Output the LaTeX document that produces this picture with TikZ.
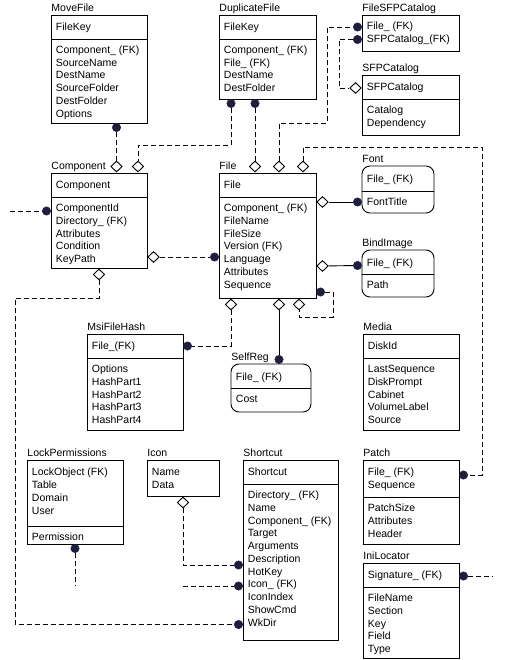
\documentclass[tikz,border=0pt]{standalone}
\usepackage{fontspec}
\setmainfont{Liberation Sans}
\usetikzlibrary{shapes.geometric,fit}
\definecolor{navy}{RGB}{30,30,62}
\newcommand\rowsx[1]{\begin{tabular}[t]{@{}l@{}}#1\end{tabular}}
\begin{document}
\begin{tikzpicture}[x=1pt,y=-1pt,line width=0.9pt,
  font=\fontsize{10.5}{12.75}\selectfont,
  ebox/.style={draw,inner sep=0pt,line width=0.9pt},
  rbox/.style={ebox,rounded corners=8pt},
  lbl/.style={anchor=base west,inner sep=0pt},
  txt/.style={anchor=base west,inner sep=0pt,xshift=4.5pt},
  dot/.style={circle,fill=navy,draw=navy,minimum size=8.5pt,inner sep=0pt,line width=0.4pt},
  dmd/.style={diamond,draw,fill=white,minimum width=11.5pt,minimum height=11pt,inner sep=0pt,line width=0.9pt},
  dsh/.style={dash pattern=on 5pt off 3pt},
  sld/.style={solid}]
\fill[white] (0,0) rectangle (506,660);
\useasboundingbox (0,0) rectangle (506,660);

% MoveFile
\node[lbl] (mvL) at (51,11.5) {MoveFile};
\node[ebox,fit={(51,15)(147,123)}] (mv) {};
\draw (51,39) -- (147,39);
\node[txt] (mvK) at (51,30.8) {FileKey};
\node[txt] (mvR) at (51,53.5) {\rowsx{Component\_ (FK)\\SourceName\\DestName\\SourceFolder\\DestFolder\\Options}};

% DuplicateFile
\node[lbl] (dfL) at (219,11.5) {DuplicateFile};
\node[ebox,fit={(219,15)(316,99)}] (df) {};
\draw (219,39) -- (316,39);
\node[txt] (dfK) at (219,30.8) {FileKey};
\node[txt] (dfR) at (219,53.5) {\rowsx{Component\_ (FK)\\File\_ (FK)\\DestName\\DestFolder}};

% FileSFPCatalog
\node[lbl] (fsL) at (362,11.5) {FileSFPCatalog};
\node[ebox,fit={(362,15)(459,51)}] (fs) {};
\node[txt] (fsR) at (362,29.5) {\rowsx{File\_ (FK)\\SFPCatalog\_(FK)}};

% SFPCatalog
\node[lbl] (spL) at (362,71.5) {SFPCatalog};
\node[ebox,fit={(362,75)(459,135)}] (sp) {};
\draw (362,99) -- (459,99);
\node[txt] (spK) at (362,90.8) {SFPCatalog};
\node[txt] (spR) at (362,113.5) {\rowsx{Catalog\\Dependency}};

% Component
\node[lbl] (cmLb) at (51,169.5) {Component};
\node[ebox,fit={(51,173)(147,268)}] (cm) {};
\draw (51,197) -- (147,197);
\node[txt] (cmK) at (51,188.8) {Component};
\node[txt] (cmRw) at (51,211.5) {\rowsx{ComponentId\\Directory\_ (FK)\\Attributes\\Condition\\KeyPath}};

% File
\node[lbl] (fLb) at (219,169.5) {File};
\node[ebox,fit={(219,173)(316,298)}] (fl) {};
\draw (219,197) -- (316,197);
\node[txt] (fK) at (219,188.8) {File};
\node[txt] (fRw) at (219,211.5) {\rowsx{Component\_ (FK)\\FileName\\FileSize\\Version (FK)\\Language\\Attributes\\Sequence}};

% Font
\node[lbl] (ftL) at (362,162.5) {Font};
\node[rbox,fit={(362,166)(434,213)}] (ft) {};
\draw (362,191) -- (434,191);
\node[txt] (ftK) at (362,182.3) {File\_ (FK)};
\node[txt] (ftR) at (362,205.5) {FontTitle};

% BindImage
\node[lbl] (biL) at (362,246.5) {BindImage};
\node[rbox,fit={(362,250)(434,297)}] (bi) {};
\draw (362,274) -- (434,274);
\node[txt] (biK) at (362,266) {File\_ (FK)};
\node[txt] (biR) at (362,288.5) {Path};

% MsiFileHash
\node[lbl] (msL) at (87,330.5) {MsiFileHash};
\node[ebox,fit={(87,334)(183,430)}] (ms) {};
\draw (87,358) -- (183,358);
\node[txt] (msK) at (87,349.8) {File\_(FK)};
\node[txt] (msR) at (87,372.5) {\rowsx{Options\\HashPart1\\HashPart2\\HashPart3\\HashPart4}};

% SelfReg
\node[lbl] (srL) at (231,360.5) {SelfReg};
\node[rbox,fit={(231,364)(311,412)}] (sr) {};
\draw (231,388) -- (311,388);
\node[txt] (srK) at (231,380) {File\_ (FK)};
\node[txt] (srR) at (231,402.5) {Cost};

% Media
\node[lbl] (mdL) at (363,330.5) {Media};
\node[ebox,fit={(363,334)(459,430)}] (md) {};
\draw (363,358) -- (459,358);
\node[txt] (mdK) at (363,349.8) {DiskId};
\node[txt] (mdR) at (363,372.5) {\rowsx{LastSequence\\DiskPrompt\\Cabinet\\VolumeLabel\\Source}};

% LockPermissions
\node[lbl] (lpL) at (27,456.5) {LockPermissions};
\node[ebox,fit={(27,460)(123,544)}] (lp) {};
\draw (27,526) -- (123,526);
\node[txt] (lpR) at (27,475.8) {\rowsx{LockObject (FK)\\Table\\Domain\\User}};
\node[txt] (lpP) at (27,540) {Permission};

% Icon
\node[lbl] (icL) at (147,456.5) {Icon};
\node[ebox,fit={(147,460)(219,496)}] (ic) {};
\node[txt] (icR) at (147,475.8) {\rowsx{Name\\Data}};

% Shortcut
\node[lbl] (scL) at (243,456.5) {Shortcut};
\node[ebox,fit={(243,460)(338,640)}] (sc) {};
\draw (243,484) -- (338,484);
\node[txt] (scK) at (243,475.8) {Shortcut};
\node[txt] (scR) at (243,498.5) {\rowsx{Directory\_ (FK)\\Name\\Component\_ (FK)\\Target\\Arguments\\Description\\HotKey\\Icon\_ (FK)\\IconIndex\\ShowCmd\\WkDir}};

% Patch
\node[lbl] (ptL) at (363,456.5) {Patch};
\node[ebox,fit={(363,460)(459,544)}] (pt) {};
\draw (363,497) -- (459,497);
\node[txt] (ptK) at (363,475.8) {\rowsx{File\_ (FK)\\Sequence}};
\node[txt] (ptR) at (363,511.5) {\rowsx{PatchSize\\Attributes\\Header}};

% IniLocator
\node[lbl] (ilL) at (363,559.5) {IniLocator};
\node[ebox,fit={(363,563)(459,658)}] (il) {};
\draw (363,587) -- (459,587);
\node[txt] (ilK) at (363,578.8) {Signature\_ (FK)};
\node[txt] (ilR) at (363,601.5) {\rowsx{FileName\\Section\\Key\\Field\\Type}};

% markers
\node[dot] (mvD) at (116.5,127.5) {};
\node[dmd] (cmT1) at (116.5,166.5) {};
\node[dmd] (cmT2) at (138,166.5) {};
\node[dot] (dfD1) at (231,103.5) {};
\node[dot] (dfD2) at (255,103.5) {};
\node[dmd] (fT1) at (255,166.5) {};
\node[dmd] (fT2) at (279,166.5) {};
\node[dmd] (fT3) at (303,166.5) {};
\node[dot] (fsD1) at (357.5,27) {};
\node[dot] (fsD2) at (357.5,39.5) {};
\node[dmd] (spM) at (355.5,88) {};
\node[dmd] (fR1) at (322.5,202) {};
\node[dmd] (fR2) at (322.5,266) {};
\node[dot] (ftD) at (357.5,202) {};
\node[dot] (biD) at (357.5,265.5) {};
\node[dot] (fD) at (320.5,292) {};
\node[dmd] (fB1) at (231,304.5) {};
\node[dmd] (fB2) at (279,304.5) {};
\node[dmd] (fB3) at (299,304.5) {};
\node[dot] (msD) at (187.5,346) {};
\node[dot] (srD) at (279,359.5) {};
\node[dot] (fL) at (214.5,257) {};
\node[dmd] (cmR) at (153.5,257) {};
\node[dot] (cmL) at (46.5,211) {};
\node[dmd] (cmB) at (99,274.5) {};
\node[dmd] (icM) at (183,502.5) {};
\node[dot] (scD1) at (238.5,565) {};
\node[dot] (scD2) at (238.5,586) {};
\node[dot] (scD3) at (238.5,624.5) {};
\node[dot] (lpD) at (75,548.5) {};
\node[dot] (ptD) at (463.5,475) {};
\node[dot] (ilD) at (463.5,576) {};

\coordinate (e1) at (10,211);
\coordinate (e2) at (183,586);
\coordinate (e3) at (75,586);
\coordinate (e4) at (492,576);

% connectors
\draw[dsh] (mvD) -- (cmT1);
\draw[dsh] (dfD1) |- (138,145) -- (cmT2);
\draw[dsh] (dfD2) -- (fT1);
\draw[dsh] (fT2) |- (327,123) |- (fsD1);
\draw[dsh] (fsD2) -| (339,88) -- (spM);
\draw[dsh] (fT3) |- (482,147) |- (ptD);
\draw[sld] (fR1) -- (ftD);
\draw[sld] (fR2) -- (biD);
\draw[dsh] (fD) -- (333,292) |- (299,317) -- (fB3);
\draw[dsh] (fB1) |- (msD);
\draw[sld] (fB2) -- (srD);
\draw[dsh] (cmR) -- (fL);
\draw[dsh] (e1) -- (cmL);
\draw[dsh] (cmB) |- (15,298) |- (scD3);
\draw[dsh] (icM) |- (scD1);
\draw[dsh] (e2) -- (scD2);
\draw[dsh] (lpD) -- (e3);
\draw[dsh] (ilD) -- (e4);
\end{tikzpicture}
\end{document}
